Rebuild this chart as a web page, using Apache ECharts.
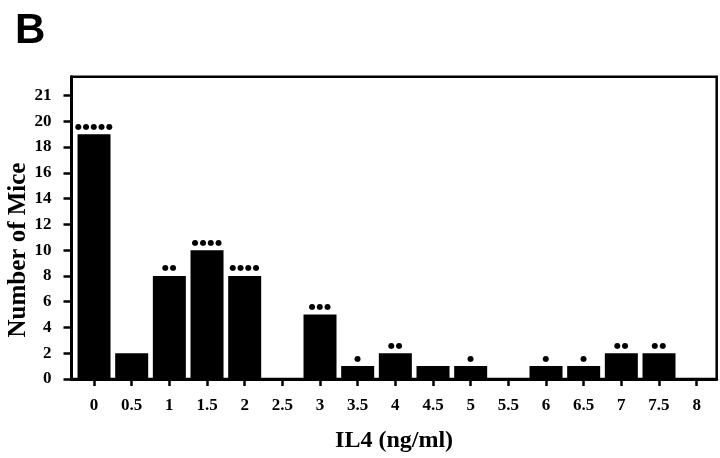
<!DOCTYPE html>
<html>
<head>
<meta charset="utf-8">
<script src="https://cdn.jsdelivr.net/npm/echarts@6/dist/echarts.min.js"></script>
<style>html,body{margin:0;padding:0;background:#fff}#c{width:720px;height:458px}</style>
</head>
<body>
<div id="c"></div>
<script>
// IL4 dose (ng/ml) categories
var doses = [0, 0.5, 1, 1.5, 2, 2.5, 3, 3.5, 4, 4.5, 5, 5.5, 6, 6.5, 7, 7.5, 8];
var doseLabels = ['0','0.5','1','1.5','2','2.5','3','3.5','4','4.5','5','5.5','6','6.5','7','7.5','8'];
// Number of mice per dose
var mice = [19, 2, 8, 10, 8, 0, 5, 1, 2, 1, 1, 0, 1, 1, 2, 2, 0];
// Number of dots drawn above each bar
var dots = [5, 0, 2, 4, 4, 0, 3, 1, 2, 0, 1, 0, 1, 1, 2, 2, 0];
// Y tick positions and their printed labels (top tick printed as 21)
var yTickValues = [0, 2, 4, 6, 8, 10, 12, 14, 16, 18, 20, 22];
var yTickLabels = ['0','2','4','6','8','10','12','14','16','18','20','21'];

var serif = "'Liberation Serif','Times New Roman',serif";
var chart = echarts.init(document.getElementById('c'), null, {renderer: 'canvas'});
var barData = doses.map(function (d, i) { return [d, mice[i]]; });

chart.setOption({
  animation: false,
  backgroundColor: '#fff',
  title: {
    text: 'B', left: 10, top: 5,
    textStyle: {fontFamily: "'Liberation Sans',Arial,sans-serif", fontWeight: 'bold', fontSize: 42, color: '#000'}
  },
  grid: {
    left: 71.5, right: 720 - 716.7, top: 76.7, bottom: 458 - 381.7,
    show: true, borderColor: '#000', borderWidth: 2.5, backgroundColor: 'transparent'
  },
  xAxis: {
    type: 'value', min: -0.299, max: 8.266,
    axisLine: {show: true, onZero: false, lineStyle: {color: '#000', width: 3}},
    axisTick: {show: true, customValues: doses, length: 7, lineStyle: {color: '#000', width: 2.5}},
    axisLabel: {
      show: true, customValues: doses, margin: 18,
      formatter: function (v) { var i = doses.indexOf(v); return i >= 0 ? doseLabels[i] : ''; },
      fontFamily: serif, fontWeight: 'bold', fontSize: 17, color: '#000'
    },
    splitLine: {show: false},
    name: 'IL4 (ng/ml)', nameLocation: 'middle', nameGap: 50,
    nameTextStyle: {fontFamily: serif, fontWeight: 'bold', fontSize: 24, color: '#000'}
  },
  yAxis: {
    type: 'value', min: 0, max: 23.46,
    axisLine: {show: true, onZero: false, lineStyle: {color: '#000', width: 3}},
    axisTick: {show: true, customValues: yTickValues, length: 8, lineStyle: {color: '#000', width: 2.5}},
    axisLabel: {
      show: true, customValues: yTickValues, margin: 20,
      formatter: function (v) { var i = yTickValues.indexOf(v); return i >= 0 ? yTickLabels[i] : ''; },
      fontFamily: serif, fontWeight: 'bold', fontSize: 17, color: '#000'
    },
    splitLine: {show: false}
  },
  graphic: [{
    type: 'text', x: 19, y: 250, rotation: Math.PI / 2,
    style: {text: 'Number of Mice', font: "bold 25px 'Liberation Serif','Times New Roman',serif", fill: '#000', align: 'center', verticalAlign: 'middle'}
  }],
  series: [{
    type: 'bar',
    data: barData,
    barWidth: 33,
    itemStyle: {color: '#000'},
    label: {
      show: true, position: 'top', distance: 3,
      formatter: function (p) { var n = dots[p.dataIndex]; return n ? new Array(n + 1).join('\u25CF\u200A').trim() : ''; },
      fontFamily: "'DejaVu Sans',sans-serif", fontSize: 8, color: '#000', lineHeight: 9
    }
  }]
});
</script>
</body>
</html>
